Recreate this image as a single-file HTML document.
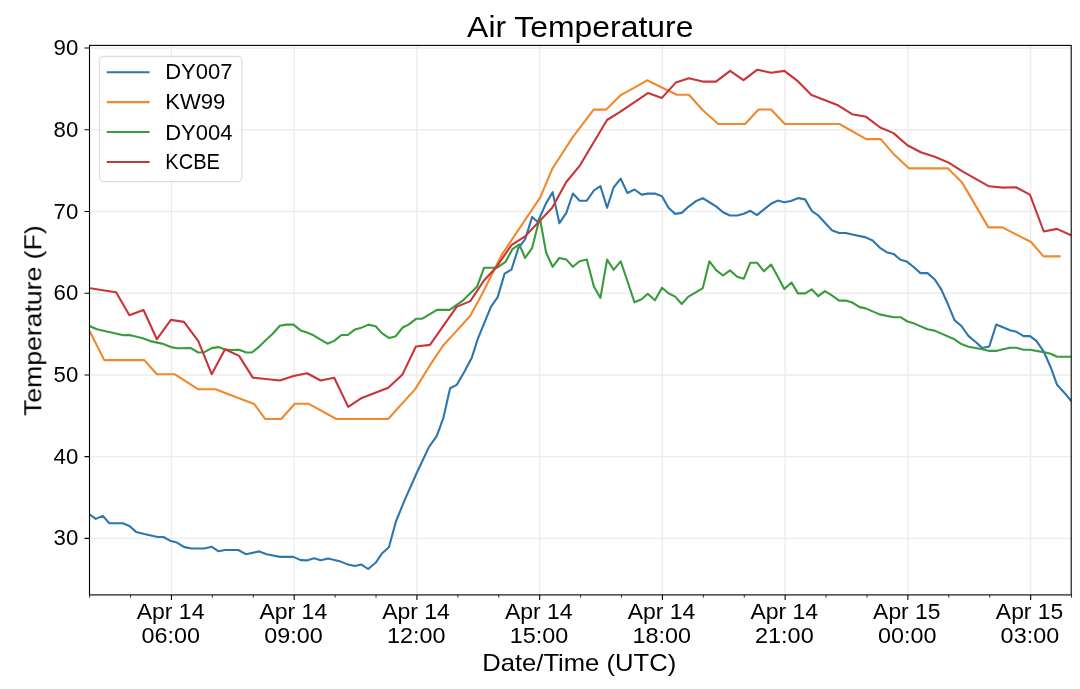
<!DOCTYPE html><html><head><meta charset="utf-8"><style>html,body{margin:0;padding:0;background:#fff;width:1080px;height:689px;overflow:hidden}svg{display:block}text{font-family:"Liberation Sans",sans-serif;fill:#000}.t{will-change:transform}</style></head><body><svg width="1080" height="689" viewBox="0 0 1080 689"><rect width="1080" height="689" fill="#fff"/><path d="M171.45 45.4V594.9M294.19 45.4V594.9M416.93 45.4V594.9M539.68 45.4V594.9M662.42 45.4V594.9M785.16 45.4V594.9M907.90 45.4V594.9M1030.64 45.4V594.9M89.5 538.39H1071.2M89.5 456.67H1071.2M89.5 374.95H1071.2M89.5 293.23H1071.2M89.5 211.50H1071.2M89.5 129.78H1071.2M89.5 48.06H1071.2" stroke="#000" stroke-opacity="0.075" stroke-width="1.4" fill="none"/><clipPath id="c"><rect x="89.5" y="45.4" width="981.70" height="549.50"/></clipPath><g clip-path="url(#c)" fill="none" stroke-width="2.1" stroke-linejoin="round" stroke-linecap="square"><path d="M90.2 514.8 95.7 518.9 102.8 515.9 109.4 523.3 122.8 523.3 129.4 526.0 136.1 531.9 144.3 534.0 157.6 537.0 163.5 537.0 170.9 541.1 176.9 542.6 184.3 547.1 191.7 548.5 204.3 548.5 211.7 546.8 218.3 551.2 225.0 550.0 238.3 550.0 245.9 554.2 259.3 551.4 266.7 554.2 280.0 556.9 293.3 556.9 300.7 560.1 306.7 560.4 314.1 558.3 320.7 560.3 328.1 558.6 340.7 561.6 348.1 564.6 354.8 566.1 361.5 564.6 368.1 569.0 375.6 562.8 382.2 553.2 388.9 547.2 396.1 521.0 405.2 498.9 416.7 473.0 428.9 447.1 436.7 436.1 443.4 417.8 450.1 388.3 456.7 384.9 464.2 371.9 471.8 357.7 477.6 339.4 490.9 306.9 497.7 297.1 504.6 273.6 511.4 269.7 518.3 248.2 525.1 239.4 532.2 216.9 537.7 222.0 545.9 203.6 552.6 192.2 559.4 223.2 566.3 212.9 572.9 193.5 579.6 200.7 586.8 200.7 593.9 190.5 600.4 186.1 607.1 207.8 613.6 187.5 620.7 178.7 627.4 193.0 634.5 189.5 641.6 194.6 647.7 193.6 654.9 193.6 662.0 196.2 668.5 207.8 675.2 213.9 681.7 212.9 688.4 206.8 695.7 201.3 702.8 198.1 709.8 202.5 716.4 206.6 723.0 212.3 730.0 215.5 737.2 215.5 743.8 213.8 750.4 210.8 757.0 215.1 764.0 209.4 771.1 203.8 777.7 200.6 784.3 202.3 790.9 201.0 798.5 198.1 805.1 199.4 811.7 210.8 818.3 215.5 824.9 222.7 831.9 230.2 839.1 233.0 845.7 233.0 852.3 234.5 865.7 237.4 872.6 240.5 880.0 247.8 886.6 252.2 893.5 253.9 900.5 259.7 906.6 261.4 913.6 267.0 920.5 273.1 927.5 273.1 934.5 279.2 941.4 289.6 948.4 305.3 954.5 320.1 961.4 326.0 968.6 336.1 975.7 342.0 982.4 348.1 989.3 346.5 996.2 324.5 1002.9 327.3 1010.0 330.2 1016.4 331.8 1023.6 336.1 1030.0 336.1 1036.4 340.9 1043.6 351.3 1050.7 367.2 1057.1 384.8 1064.3 392.7 1071.2 401.0" stroke="#2d76ae"/><path d="M90.2 332.2 104.3 360.1 144.3 360.1 156.9 374.2 174.6 374.2 198.3 389.3 215.4 389.3 254.1 403.9 265.2 419.0 281.2 419.0 294.8 403.7 308.4 403.7 336.3 419.0 388.1 419.0 415.0 389.4 430.0 365.2 443.4 345.2 452.7 335.1 470.3 315.7 482.0 294.2 501.6 255.0 540.1 197.7 552.6 168.2 573.1 136.6 593.6 109.6 606.2 109.6 621.0 94.8 634.0 87.8 647.1 80.3 676.7 94.8 688.9 94.8 702.6 110.0 718.3 124.0 745.1 124.0 758.5 109.5 771.1 109.5 784.8 124.0 839.5 124.0 866.2 139.1 880.8 139.1 893.5 153.9 909.2 168.4 948.1 168.4 962.0 182.4 988.4 227.4 1002.4 227.4 1031.1 242.0 1043.5 256.4 1059.5 256.4" stroke="#f0892c"/><path d="M90.2 326.3 96.9 329.3 110.2 332.2 123.5 335.2 129.4 334.9 142.8 338.2 150.2 341.1 162.0 343.6 170.9 347.1 177.6 348.2 190.9 348.1 198.3 352.5 204.3 352.2 211.7 348.1 218.3 347.1 225.0 349.6 231.7 350.0 239.1 349.7 246.4 352.5 252.0 352.5 259.2 346.6 266.3 339.7 272.7 333.8 279.9 325.8 286.3 324.6 293.5 324.6 300.7 330.5 307.1 332.6 313.5 335.3 320.6 339.7 327.5 343.7 334.2 340.9 341.4 335.0 347.8 335.0 355.0 329.4 362.2 327.4 368.5 324.6 375.7 326.2 382.1 333.4 389.3 338.1 395.8 336.2 402.7 327.5 408.6 324.6 416.4 318.7 422.3 318.7 437.0 309.9 449.7 309.9 463.4 300.1 477.2 286.4 484.0 267.8 496.7 267.8 505.5 261.9 512.4 249.2 519.3 244.3 525.1 258.0 532.0 248.2 539.8 217.8 546.1 252.5 552.6 266.8 559.3 258.0 566.4 259.6 572.9 266.8 579.6 261.3 586.8 259.6 593.9 286.5 600.4 297.9 607.1 259.6 613.6 269.8 620.7 261.3 627.4 281.0 634.5 302.3 641.6 299.3 647.7 293.8 654.9 300.3 662.0 287.7 668.5 293.2 675.2 296.6 681.7 304.0 688.4 296.6 696.6 291.9 702.8 288.1 709.4 261.3 716.4 270.4 723.0 275.5 730.0 270.4 737.2 276.8 743.8 278.7 750.4 262.7 757.0 262.7 764.0 271.3 771.1 264.5 777.7 276.4 784.3 289.1 791.5 282.5 797.9 293.4 805.1 293.4 811.7 289.3 818.3 296.2 824.9 291.1 831.9 295.3 839.1 300.6 845.7 300.6 852.3 302.5 859.6 307.1 865.7 308.4 879.6 314.4 893.5 317.2 900.5 317.2 907.5 321.5 914.4 323.6 927.5 329.2 934.5 330.6 954.5 339.3 961.4 344.1 968.6 346.8 982.4 349.3 989.3 350.9 996.2 350.9 1002.9 349.3 1010.0 347.8 1016.4 347.8 1023.6 349.7 1030.0 349.7 1043.6 352.1 1050.7 353.7 1057.1 356.8 1071.2 356.8" stroke="#389c3c"/><path d="M90.2 288.2 104.3 290.5 116.1 292.2 129.4 315.2 143.5 310.0 156.9 339.2 170.9 319.9 184.0 321.9 198.3 341.1 211.7 374.2 225.0 349.3 239.1 355.9 252.8 377.6 279.9 380.5 293.5 376.0 307.1 373.3 320.6 380.5 334.2 377.7 348.2 406.9 361.8 397.9 388.3 387.8 402.5 374.4 415.9 346.5 430.0 344.9 456.6 306.9 470.3 301.1 484.0 280.5 495.8 267.8 511.4 245.2 525.1 236.4 552.2 207.7 566.3 182.0 580.0 165.3 607.0 120.0 620.1 111.9 647.9 93.1 661.9 97.9 675.8 82.6 688.9 78.3 702.6 81.6 716.0 81.6 730.1 70.9 743.5 80.1 757.4 69.7 771.1 72.8 784.4 70.9 797.8 81.2 811.5 94.9 838.0 105.3 852.1 114.2 866.2 116.8 880.2 127.5 893.5 133.1 907.4 145.2 920.8 152.2 934.7 156.8 948.6 162.6 962.0 171.2 989.0 186.3 1002.9 187.6 1016.0 187.3 1029.9 194.6 1043.8 231.5 1056.9 228.9 1070.8 235.0" stroke="#c93536"/></g><rect x="89.5" y="45.4" width="981.70" height="549.50" fill="none" stroke="#000" stroke-width="1.1"/><path d="M84.50 538.39H89.5M84.50 456.67H89.5M84.50 374.95H89.5M84.50 293.23H89.5M84.50 211.50H89.5M84.50 129.78H89.5M84.50 48.06H89.5M171.45 594.9V599.90M294.19 594.9V599.90M416.93 594.9V599.90M539.68 594.9V599.90M662.42 594.9V599.90M785.16 594.9V599.90M907.90 594.9V599.90M1030.64 594.9V599.90" stroke="#000" stroke-width="1.1"/><path d="M89.62 594.9V597.70M130.54 594.9V597.70M212.36 594.9V597.70M253.28 594.9V597.70M335.11 594.9V597.70M376.02 594.9V597.70M457.85 594.9V597.70M498.76 594.9V597.70M580.59 594.9V597.70M621.50 594.9V597.70M703.33 594.9V597.70M744.25 594.9V597.70M826.07 594.9V597.70M866.99 594.9V597.70M948.82 594.9V597.70M989.73 594.9V597.70M1071.56 594.9V597.70" stroke="#000" stroke-width="0.8"/><g class="t"><text x="78.27" y="545.44" font-size="22.2" text-anchor="end">30</text><text x="78.27" y="463.72" font-size="22.2" text-anchor="end">40</text><text x="78.27" y="382.00" font-size="22.2" text-anchor="end">50</text><text x="78.27" y="300.28" font-size="22.2" text-anchor="end">60</text><text x="78.27" y="218.55" font-size="22.2" text-anchor="end">70</text><text x="78.27" y="136.83" font-size="22.2" text-anchor="end">80</text><text x="78.27" y="55.11" font-size="22.2" text-anchor="end">90</text><text x="136.69" y="619.00" font-size="22.2" textLength="67.75" lengthAdjust="spacingAndGlyphs">Apr 14</text><text x="141.44" y="642.60" font-size="22.2" textLength="58.55" lengthAdjust="spacingAndGlyphs">06:00</text><text x="259.43" y="619.00" font-size="22.2" textLength="67.75" lengthAdjust="spacingAndGlyphs">Apr 14</text><text x="264.19" y="642.60" font-size="22.2" textLength="58.55" lengthAdjust="spacingAndGlyphs">09:00</text><text x="382.17" y="619.00" font-size="22.2" textLength="67.75" lengthAdjust="spacingAndGlyphs">Apr 14</text><text x="386.98" y="642.60" font-size="22.2" textLength="58.50" lengthAdjust="spacingAndGlyphs">12:00</text><text x="504.91" y="619.00" font-size="22.2" textLength="67.75" lengthAdjust="spacingAndGlyphs">Apr 14</text><text x="509.72" y="642.60" font-size="22.2" textLength="58.50" lengthAdjust="spacingAndGlyphs">15:00</text><text x="627.65" y="619.00" font-size="22.2" textLength="67.75" lengthAdjust="spacingAndGlyphs">Apr 14</text><text x="632.46" y="642.60" font-size="22.2" textLength="58.50" lengthAdjust="spacingAndGlyphs">18:00</text><text x="750.40" y="619.00" font-size="22.2" textLength="67.75" lengthAdjust="spacingAndGlyphs">Apr 14</text><text x="755.04" y="642.60" font-size="22.2" textLength="58.66" lengthAdjust="spacingAndGlyphs">21:00</text><text x="873.14" y="619.00" font-size="22.2" textLength="67.38" lengthAdjust="spacingAndGlyphs">Apr 15</text><text x="877.90" y="642.60" font-size="22.2" textLength="58.55" lengthAdjust="spacingAndGlyphs">00:00</text><text x="995.88" y="619.00" font-size="22.2" textLength="67.38" lengthAdjust="spacingAndGlyphs">Apr 15</text><text x="1000.64" y="642.60" font-size="22.2" textLength="58.55" lengthAdjust="spacingAndGlyphs">03:00</text><text x="467.14" y="36.90" font-size="29.9" textLength="226.25" lengthAdjust="spacingAndGlyphs">Air Temperature</text><text x="482.21" y="670.50" font-size="23.6" textLength="193.97" lengthAdjust="spacingAndGlyphs">Date/Time (UTC)</text><text transform="translate(41.3 415.89) rotate(-90)" x="0" y="0" font-size="23.6" textLength="190.51" lengthAdjust="spacingAndGlyphs">Temperature (F)</text></g><rect x="99.5" y="56.4" width="142.4" height="125.2" rx="4" ry="4" fill="#fff" fill-opacity="0.8" stroke="#dcdcdc" stroke-width="1.2"/><g class="t"><path d="M106.8 72.2H149.6" stroke="#2d76ae" stroke-width="2.1"/><text x="165.19" y="79.10" font-size="22.2" textLength="67.42" lengthAdjust="spacingAndGlyphs">DY007</text><path d="M106.8 102.1H149.6" stroke="#f0892c" stroke-width="2.1"/><text x="165.19" y="109.40" font-size="22.2" textLength="60.16" lengthAdjust="spacingAndGlyphs">KW99</text><path d="M106.8 132.0H149.6" stroke="#389c3c" stroke-width="2.1"/><text x="165.19" y="139.50" font-size="22.2" textLength="67.35" lengthAdjust="spacingAndGlyphs">DY004</text><path d="M106.8 162.0H149.6" stroke="#c93536" stroke-width="2.1"/><text x="165.36" y="169.10" font-size="22.2" textLength="54.61" lengthAdjust="spacingAndGlyphs">KCBE</text></g></svg></body></html>
